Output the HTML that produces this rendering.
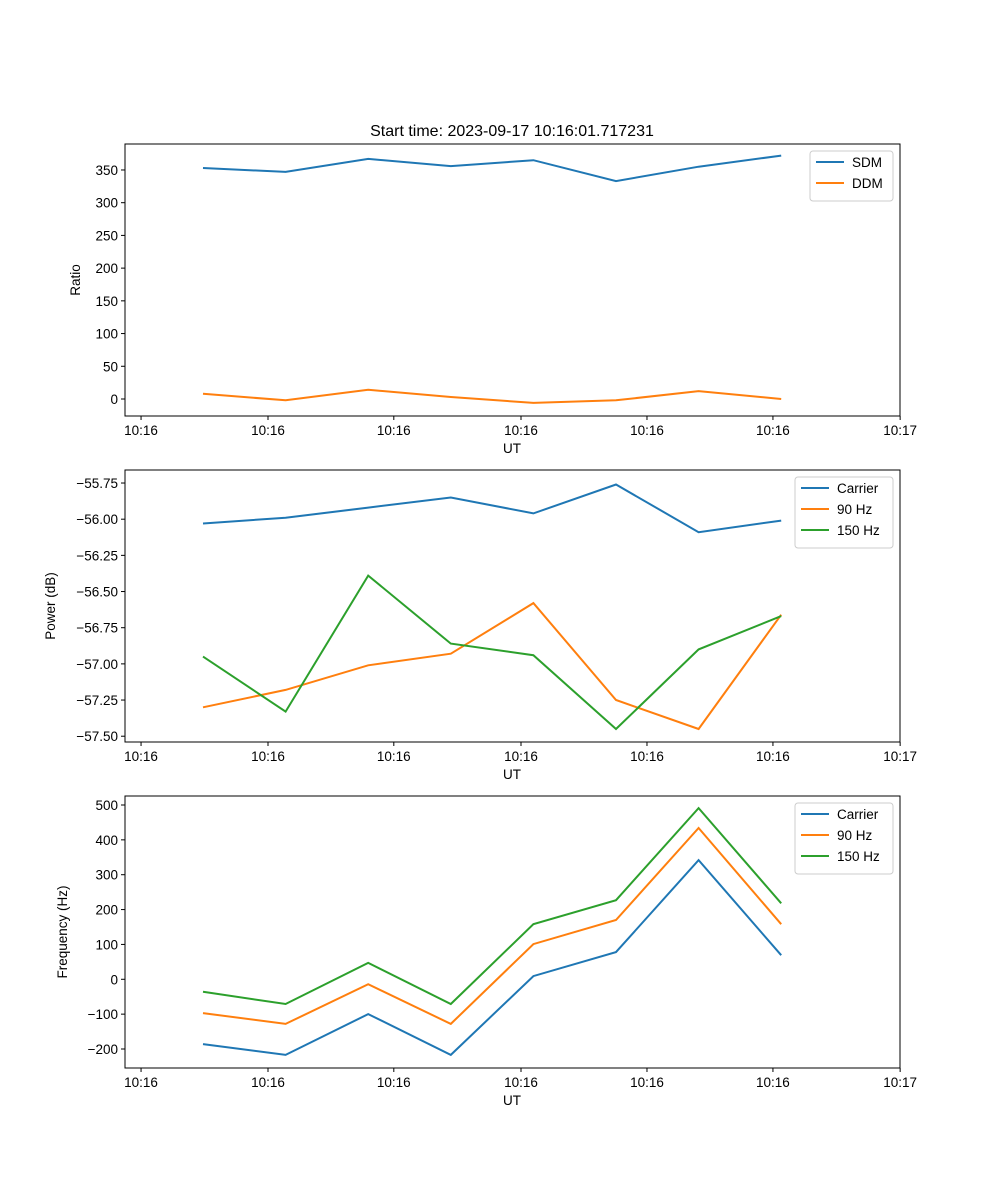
<!DOCTYPE html>
<html><head><meta charset="utf-8"><style>body{margin:0;background:#fff}svg{display:block;font-family:"Liberation Sans","DejaVu Sans",sans-serif}</style></head>
<body>
<svg id="fig" width="1000" height="1200" viewBox="0 0 1000 1200">
<rect width="1000" height="1200" fill="#fff"/>
<text x="512" y="136" font-size="16" text-anchor="middle">Start time: 2023-09-17 10:16:01.717231</text>
</svg>
<script>
const xTickPos = [-0.75, 0.787, 2.31, 3.85, 5.375, 6.9, 8.44];
const xTickLabels = ["10:16","10:16","10:16","10:16","10:16","10:16","10:17"];
const sampleIdx = [0,1,2,3,4,5,6,7];
const sdm = [353,347,367,356,365,333,355,372];
const ddm = [8,-2,14,3,-6,-2,12,0];
const pCarrier = [-56.03,-55.99,-55.92,-55.85,-55.96,-55.76,-56.09,-56.01];
const p90 = [-57.30,-57.18,-57.01,-56.93,-56.58,-57.25,-57.45,-56.66];
const p150 = [-56.95,-57.33,-56.39,-56.86,-56.94,-57.45,-56.90,-56.67];
const fCarrier = [-186,-217,-100,-217,9,78,342,69];
const f90 = [-97,-128,-14,-128,101,170,434,158];
const f150 = [-36,-71,47,-71,158,227,491,218];
const ticks1 = [0,50,100,150,200,250,300,350];
const ticks2 = [-57.5,-57.25,-57.0,-56.75,-56.5,-56.25,-56.0,-55.75];
const ticks2Labels = ["−57.50","−57.25","−57.00","−56.75","−56.50","−56.25","−56.00","−55.75"];
const ticks3 = [-200,-100,0,100,200,300,400,500];
const ticks3Labels = ["−200","−100","0","100","200","300","400","500"];

const svg=document.getElementById('fig');
const NS='http://www.w3.org/2000/svg';
function mk(tag,attrs,parent){const e=document.createElementNS(NS,tag);for(const k in attrs)e.setAttribute(k,attrs[k]);(parent||svg).appendChild(e);return e;}
const L=125,R=900;
function xs(i){return 203+i*82.6;}
function panel(name,top,bot,ymin,ymax,yt,ytl,ylabel,series,leg){
  const g=mk('g',{});
  
  
  const ys=v=>bot-(v-ymin)/(ymax-ymin)*(bot-top);
  series.forEach(s=>{
    const pts=s.data.map((v,i)=>xs(sampleIdx[i]).toFixed(1)+','+ys(v).toFixed(1)).join(' ');
    const pl=mk('polyline',{points:pts,fill:'none',stroke:s.color,'stroke-width':2},g);
    
    
  });
  const fr=mk('rect',{x:L,y:top,width:R-L,height:bot-top,fill:'none',stroke:'#000','stroke-width':1},g);
  
  
  xTickPos.forEach((t,i)=>{
    const x=xs(t);
    mk('line',{x1:x,x2:x,y1:bot,y2:bot+4,stroke:'#000'},g);
    const tx=mk('text',{x:x,y:bot+19,'font-size':13.5,'text-anchor':'middle'},g);
    tx.textContent=xTickLabels[i];
    
    
  });
  yt.forEach((t,i)=>{
    const y=ys(t);
    mk('line',{x1:L-4,x2:L,y1:y,y2:y,stroke:'#000'},g);
    const tx=mk('text',{x:L-7,y:y+5,'font-size':13.5,'text-anchor':'end'},g);
    tx.textContent=ytl[i];
    
    
  });
  const xl=mk('text',{x:512,y:bot+37,'font-size':13.5,'text-anchor':'middle'},g);
  xl.textContent='UT';
  
  
  const cy=(top+bot)/2;
  const yl=mk('text',{x:leg.ylx,y:cy,'font-size':13.5,'text-anchor':'middle',transform:`rotate(-90 ${leg.ylx} ${cy})`},g);
  yl.textContent=ylabel;
  
  
  const lg=mk('g',{},g);
  
  
  mk('rect',{x:leg.x,y:top+7,width:893-leg.x,height:8+series.length*21,rx:3,fill:'#fff',stroke:'#ccc'},lg);
  series.forEach((s,i)=>{
    const y=top+18+i*21;
    mk('line',{x1:leg.x+6,x2:leg.x+34,y1:y,y2:y,stroke:s.color,'stroke-width':2},lg);
    const t=mk('text',{x:leg.x+42,y:y+5,'font-size':13.5},lg);
    t.textContent=s.label;
    
    
  });
}
const B='#1f77b4',O='#ff7f0e',G='#2ca02c';
panel('ratio-panel',144,416,-26,389.7,ticks1,ticks1.map(String),'Ratio',
 [{id:'sdm',label:'SDM',data:sdm,color:B},{id:'ddm',label:'DDM',data:ddm,color:O}],{x:810,ylx:80});
panel('power-panel',470,742,-57.54,-55.66,ticks2,ticks2Labels,'Power (dB)',
 [{id:'carrier-power',label:'Carrier',data:pCarrier,color:B},{id:'power-90hz',label:'90 Hz',data:p90,color:O},{id:'power-150hz',label:'150 Hz',data:p150,color:G}],{x:795,ylx:55});
panel('frequency-panel',796,1068,-254.5,525.8,ticks3,ticks3Labels,'Frequency (Hz)',
 [{id:'carrier-freq',label:'Carrier',data:fCarrier,color:B},{id:'freq-90hz',label:'90 Hz',data:f90,color:O},{id:'freq-150hz',label:'150 Hz',data:f150,color:G}],{x:795,ylx:67});
</script>
</body></html>
